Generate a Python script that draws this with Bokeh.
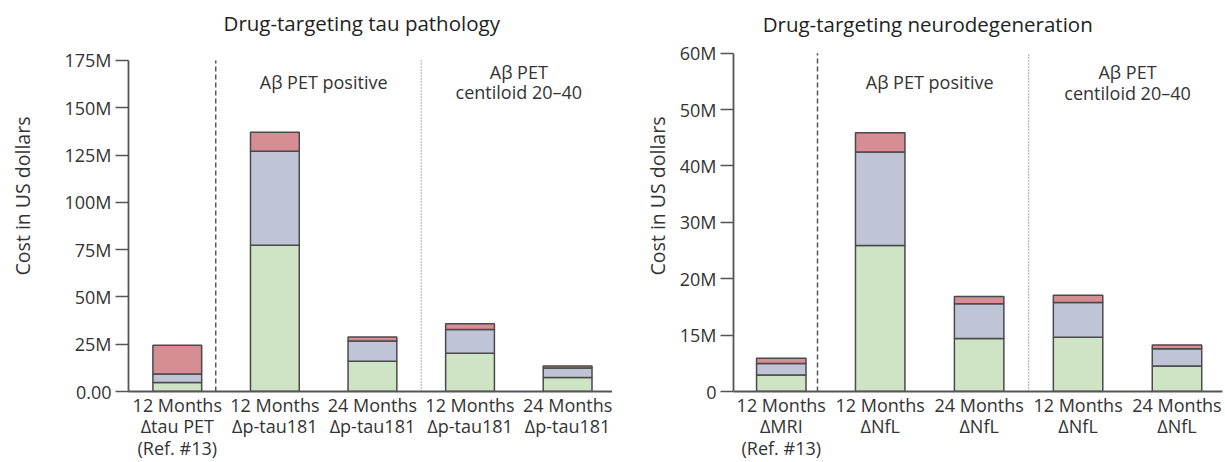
from bokeh.plotting import figure
from bokeh.models import Range1d, FixedTicker, Label, ColumnDataSource
from bokeh.layouts import row
from bokeh.embed import file_html
from bokeh.resources import INLINE

# ---------------- data (values in millions of US dollars) ----------------
tau_categories = ["12 Months\nΔtau PET\n(Ref. #13)", "12 Months\nΔp-tau181",
                  "24 Months\nΔp-tau181", "12 Months\nΔp-tau181", "24 Months\nΔp-tau181"]
tau_green = [4.7, 77.3, 16.0, 20.2, 7.4]
tau_blue = [4.6, 49.7, 10.7, 12.6, 5.0]
tau_red = [15.1, 10.0, 2.1, 3.0, 1.1]
tau_yticks = [0, 25, 50, 75, 100, 125, 150, 175]
tau_ylabels = ["0.00", "25M", "50M", "75M", "100M", "125M", "150M", "175M"]

neuro_categories = ["12 Months\nΔMRI\n(Ref. #13)", "12 Months\nΔNfL",
                    "24 Months\nΔNfL", "12 Months\nΔNfL", "24 Months\nΔNfL"]
neuro_green = [2.93, 25.9, 9.42, 9.6, 4.52]
neuro_blue = [2.02, 16.6, 6.13, 6.18, 3.08]
neuro_red = [0.93, 3.4, 1.29, 1.29, 0.63]
neuro_yticks = [0, 10, 20, 30, 40, 50, 60]
neuro_ylabels = ["0", "15M", "20M", "30M", "40M", "50M", "60M"]

group_labels = ["Aβ PET positive", "Aβ PET\ncentiloid 20–40"]

FONT = "Open Sans"
TXT = "#333333"
AX = "#555555"
COLORS = ["#cfe3c5", "#bfc4d6", "#d68d93"]


def make_chart(title, cats, g, b, r, yticks, ylabels, yend, width,
               mb_left, mb_right, xstart, xend, title_x, title_y,
               label_standoff, dash_x, dot_x, ann_y):
    p = figure(width=width, height=462, output_backend="svg", toolbar_location=None,
               x_range=Range1d(xstart, xend), y_range=Range1d(0, yend),
               min_border_left=mb_left, min_border_right=mb_right,
               min_border_top=0, min_border_bottom=0)
    p.outline_line_color = None
    p.grid.visible = False
    p.background_fill_color = "white"
    p.border_fill_color = "white"

    # chart title, drawn in the free space above the highest tick
    p.add_layout(Label(x=title_x, y=title_y, text=title, text_align="center",
                       text_baseline="middle", text_font=FONT,
                       text_font_size="20.5px", text_color="#222222"))

    src = ColumnDataSource(dict(x=list(range(len(cats))), green=g, blue=b, red=r))
    p.vbar_stack(["green", "blue", "red"], x="x", width=0.5, source=src,
                 fill_color=COLORS, line_color="#4a4a4a", line_width=1.5)

    top = yticks[-1]
    p.segment(x0=[dash_x], y0=[0], x1=[dash_x], y1=[top], line_color=AX,
              line_width=1.5, line_dash="5 3")
    p.segment(x0=[dot_x], y0=[0], x1=[dot_x], y1=[top], line_color="#777777",
              line_width=1.2, line_dash="1 2")

    for xpos, txt in zip([1.5, 3.5], group_labels):
        p.add_layout(Label(x=xpos, y=ann_y, text=txt, text_align="center",
                           text_baseline="middle", text_font=FONT,
                           text_font_size="18px", text_color=TXT,
                           text_line_height=0.86))

    xa = p.xaxis[0]
    xa.ticker = FixedTicker(ticks=list(range(len(cats))))
    xa.major_label_overrides = {i: c for i, c in enumerate(cats)}
    xa.major_tick_out = 0
    xa.major_tick_in = 0
    xa.minor_tick_line_color = None
    xa.axis_line_color = AX
    xa.axis_line_width = 1.8
    xa.major_label_text_font = FONT
    xa.major_label_text_font_size = "18px"
    xa.major_label_text_color = TXT
    xa.major_label_text_line_height = 0.9
    xa.major_label_standoff = 1

    ya = p.yaxis[0]
    ya.bounds = (0, top)
    ya.ticker = FixedTicker(ticks=yticks)
    ya.major_label_overrides = {t: l for t, l in zip(yticks, ylabels)}
    ya.major_tick_out = 13
    ya.major_tick_in = 0
    ya.major_tick_line_color = AX
    ya.major_tick_line_width = 1.5
    ya.minor_tick_line_color = None
    ya.axis_line_color = AX
    ya.axis_line_width = 1.8
    ya.major_label_text_font = FONT
    ya.major_label_text_font_size = "18px"
    ya.major_label_text_color = TXT
    ya.major_label_standoff = 4
    ya.axis_label = "Cost in US dollars"
    ya.axis_label_text_font = FONT
    ya.axis_label_text_font_size = "19.5px"
    ya.axis_label_text_font_style = "normal"
    ya.axis_label_text_color = TXT
    ya.axis_label_standoff = label_standoff
    return p


p1 = make_chart("Drug-targeting tau pathology", tau_categories, tau_green, tau_blue, tau_red,
                tau_yticks, tau_ylabels, 206.7, 612, 128, 0, -0.5, 4.46, 1.89, 194.6, 25,
                0.394, 2.5, 163.6)
p2 = make_chart("Drug-targeting neurodegeneration", neuro_categories, neuro_green, neuro_blue,
                neuro_red, neuro_yticks, neuro_ylabels, 69.35, 613, 121, 3, -0.483, 4.46, 1.48,
                65.27, 6, 0.366, 2.5, 54.86)

layout = row(p1, p2)
open("out.html", "w").write(file_html(layout, INLINE))
